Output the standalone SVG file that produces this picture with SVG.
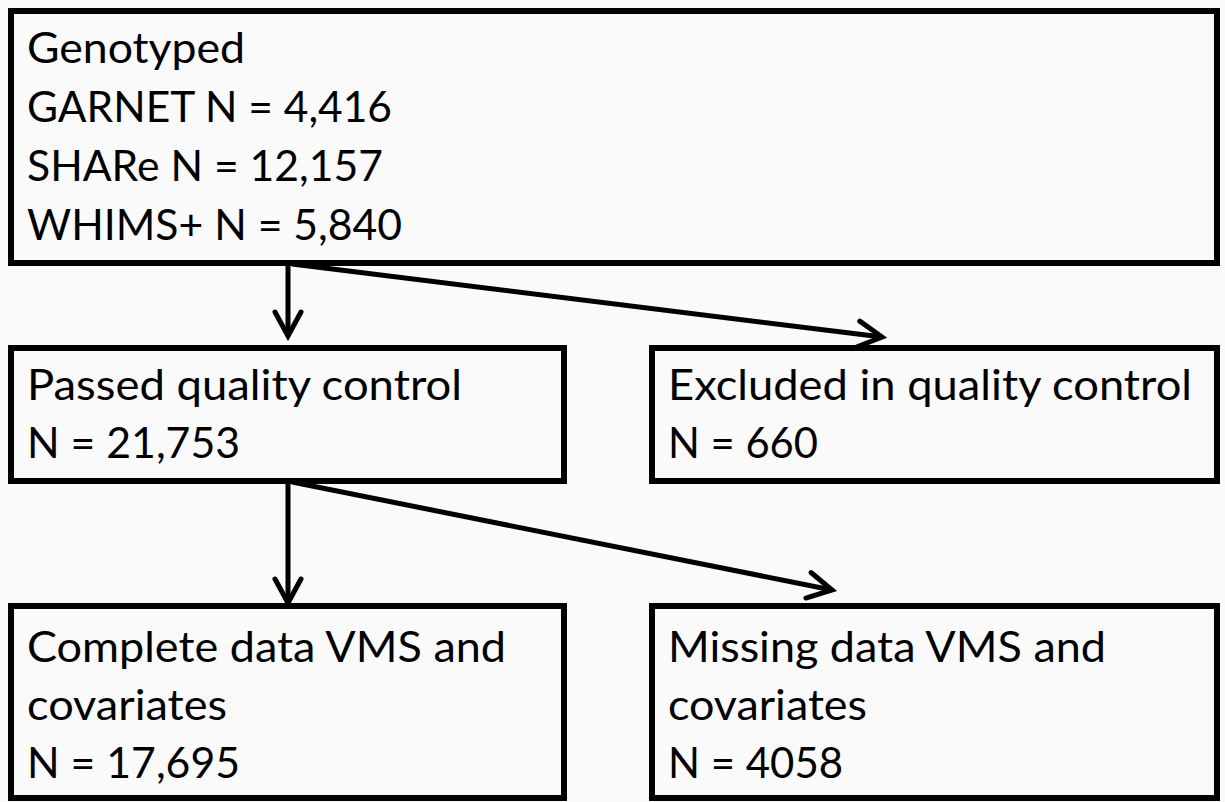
<svg xmlns="http://www.w3.org/2000/svg" width="1225" height="802" viewBox="0 0 1225 802">
<style>
.box{fill:#fafafa;stroke:#000;stroke-width:6;stroke-linejoin:miter}
.t{font-family:Lato,"Open Sans","Liberation Sans",sans-serif;font-size:42px;fill:#000}
.c{fill:none;stroke:#000;stroke-width:5}
</style>
<defs>
<marker id="ah" markerUnits="userSpaceOnUse" markerWidth="40" markerHeight="40" viewBox="0 0 40 40" refX="34" refY="20" orient="auto">
<path d="M10,7 L34,20 L10,33" fill="none" stroke="#000" stroke-width="5" stroke-linecap="round" stroke-linejoin="miter"/>
</marker>
</defs>
<rect x="0" y="0" width="1225" height="802" fill="#fafafa"/>
<g id="genotyped">
<rect class="box" x="11" y="11" width="1206" height="252"/>
<text class="t" x="27" y="63" textLength="218" lengthAdjust="spacingAndGlyphs">Genotyped</text>
<text class="t" x="27" y="122" textLength="365" lengthAdjust="spacingAndGlyphs">GARNET N = 4,416</text>
<text class="t" x="27" y="181" textLength="356" lengthAdjust="spacingAndGlyphs">SHARe N = 12,157</text>
<text class="t" x="27" y="240" textLength="375" lengthAdjust="spacingAndGlyphs">WHIMS+ N = 5,840</text>
</g>
<g id="passed">
<rect class="box" x="11" y="348" width="553" height="133"/>
<text class="t" x="27" y="400" textLength="435" lengthAdjust="spacingAndGlyphs">Passed quality control</text>
<text class="t" x="27" y="458" textLength="213" lengthAdjust="spacingAndGlyphs">N = 21,753</text>
</g>
<g id="excluded">
<rect class="box" x="652" y="348" width="565" height="133"/>
<text class="t" x="668" y="400" textLength="524" lengthAdjust="spacingAndGlyphs">Excluded in quality control</text>
<text class="t" x="668" y="458" textLength="150" lengthAdjust="spacingAndGlyphs">N = 660</text>
</g>
<g id="complete">
<rect class="box" x="11" y="606" width="553" height="192"/>
<text class="t" x="27" y="662" textLength="479" lengthAdjust="spacingAndGlyphs">Complete data VMS and</text>
<text class="t" x="27" y="720" textLength="200" lengthAdjust="spacingAndGlyphs">covariates</text>
<text class="t" x="27" y="778" textLength="213" lengthAdjust="spacingAndGlyphs">N = 17,695</text>
</g>
<g id="missing">
<rect class="box" x="652" y="606" width="565" height="192"/>
<text class="t" x="668" y="662" textLength="438" lengthAdjust="spacingAndGlyphs">Missing data VMS and</text>
<text class="t" x="668" y="720" textLength="199" lengthAdjust="spacingAndGlyphs">covariates</text>
<text class="t" x="668" y="778" textLength="175" lengthAdjust="spacingAndGlyphs">N = 4058</text>
</g>
<g id="connectors">
<line class="c" x1="288" y1="264" x2="288" y2="336" marker-end="url(#ah)"/>
<line class="c" x1="292" y1="264" x2="882" y2="337" marker-end="url(#ah)"/>
<line class="c" x1="288" y1="482" x2="288" y2="603" marker-end="url(#ah)"/>
<line class="c" x1="292" y1="482" x2="832" y2="590" marker-end="url(#ah)"/>
</g>
</svg>
